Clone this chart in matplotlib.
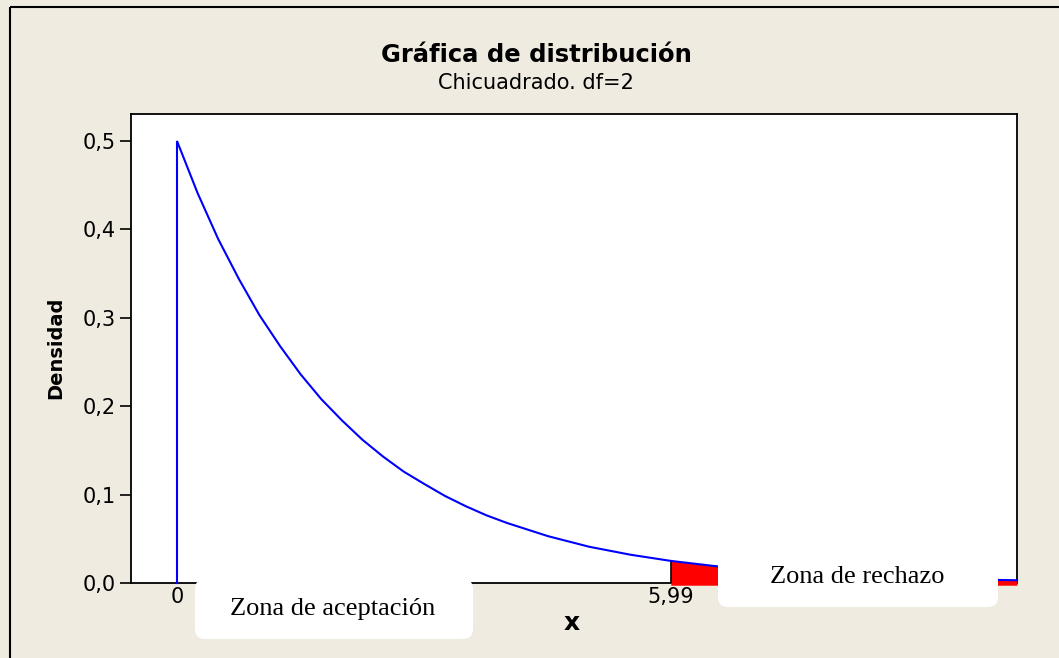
import matplotlib
matplotlib.use('Agg')
import matplotlib.pyplot as plt
from matplotlib.patches import FancyBboxPatch, Rectangle

# ---- data ----
x_vals = [0.0, 0.25, 0.5, 0.75, 1.0, 1.25, 1.5, 1.75, 2.0, 2.25, 2.5, 2.75,
          3.0, 3.25, 3.5, 3.75, 4.0, 4.5, 5.0, 5.5, 5.99,
          6.5, 7.0, 7.5, 8.0, 8.5, 9.0, 9.5, 10.0, 10.19]
density = [0.500, 0.441, 0.389, 0.344, 0.303, 0.268, 0.236, 0.208, 0.184,
           0.162, 0.143, 0.126, 0.112, 0.0985, 0.087, 0.0767, 0.068,
           0.053, 0.041, 0.032, 0.025, 0.0194, 0.0151, 0.0118, 0.0092,
           0.0071, 0.0056, 0.0043, 0.0034, 0.0031]
critical_value = 5.99
x_tick_positions = [0, 5.99]
x_tick_labels = ['0', '5,99']
y_tick_positions = [0.0, 0.1, 0.2, 0.3, 0.4, 0.5]
y_tick_labels = ['0,0', '0,1', '0,2', '0,3', '0,4', '0,5']
title = 'Gráfica de distribución'
subtitle = 'Chicuadrado. df=2'
x_label = 'x'
y_label = 'Densidad'
accept_label = 'Zona de aceptación'
reject_label = 'Zona de rechazo'

# ---- layout ----
W, H = 1059, 658
bg = '#EFEBE1'
fig = plt.figure(figsize=(W / 100, H / 100), dpi=100, facecolor=bg)


def fx(px):
    return px / W


def fy(py):
    return 1 - py / H


ax = fig.add_axes([fx(131), fy(583), (1017 - 131) / W, (583 - 114) / H])
ax.set_facecolor('white')
ax.set_xlim(-0.558, 10.19)
ax.set_ylim(0, 0.5305)
for s in ax.spines.values():
    s.set_color('black')
    s.set_linewidth(1.3)

# curve with vertical start at x=0
cx = [x_vals[0]] + x_vals
cy = [0.0] + density
ax.plot(cx, cy, color='#0000FF', lw=1.5, zorder=5, clip_on=False,
        solid_joinstyle='miter')

# rejection region fill
fx_vals = [x for x in x_vals if x >= critical_value]
fy_vals = [d for x, d in zip(x_vals, density) if x >= critical_value]
ax.fill_between(fx_vals, -0.0025, fy_vals, color='#FF0000', lw=0, zorder=3,
                clip_on=False)
crit_d = density[x_vals.index(critical_value)]
ax.plot([critical_value, critical_value], [0, crit_d], color='black', lw=1.2,
        zorder=4)

ax.set_xticks(x_tick_positions)
ax.set_xticklabels(x_tick_labels)
ax.set_yticks(y_tick_positions)
ax.set_yticklabels(y_tick_labels)
ax.tick_params(axis='y', direction='out', length=8, width=1.2, labelsize=15,
               pad=3, colors='black')
ax.tick_params(axis='x', length=0, labelsize=15, pad=3)

# texts
fig.text(fx(536), fy(55), title, ha='center', va='center', fontsize=17.5,
         fontweight='bold', family='DejaVu Sans')
fig.text(fx(536), fy(83), subtitle, ha='center', va='center', fontsize=15,
         family='DejaVu Sans')
fig.text(fx(572), fy(623), x_label, ha='center', va='center', fontsize=18,
         fontweight='bold')
fig.text(fx(56), fy(348), y_label, ha='center', va='center', fontsize=14,
         fontweight='bold', rotation=90)

# overlay for boxes and frame
ov = fig.add_axes([0, 0, 1, 1])
ov.set_xlim(0, W)
ov.set_ylim(H, 0)
ov.set_axis_off()
ov.add_patch(Rectangle((10, 7), 1100, 700, fill=False, edgecolor='black',
                       lw=1.5))
ov.add_patch(FancyBboxPatch((195, 579), 278, 60,
                            boxstyle='round,pad=0,rounding_size=10',
                            facecolor='white', edgecolor='none'))
ov.add_patch(FancyBboxPatch((718, 547), 280, 60,
                            boxstyle='round,pad=0,rounding_size=10',
                            facecolor='white', edgecolor='none'))
ov.text(333, 609, accept_label, ha='center', va='center', fontsize=19,
        family='Liberation Serif')
ov.text(857, 577, reject_label, ha='center', va='center', fontsize=19,
        family='Liberation Serif')

fig.savefig('out.png', dpi=100, facecolor=bg)
